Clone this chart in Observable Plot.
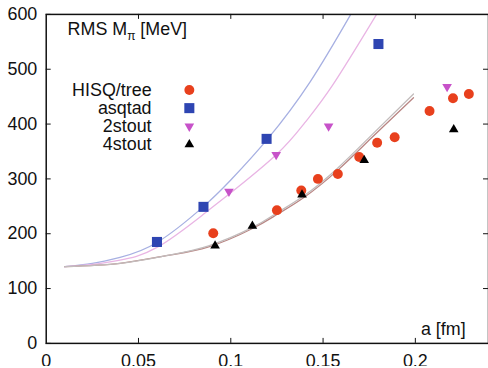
<!DOCTYPE html>
<html><head><meta charset="utf-8">
<script src="https://cdn.jsdelivr.net/npm/d3@7"></script>
<script src="https://cdn.jsdelivr.net/npm/@observablehq/plot@0.6"></script>
<style>html,body{margin:0;padding:0;background:#fff;overflow:hidden;} svg{display:block}</style>
</head><body><div id="chart"></div>
<script>
// ---- data ----
const hisqA = [0.0905, 0.125, 0.1382, 0.1472, 0.158, 0.1696, 0.1793, 0.1888, 0.2077, 0.2204, 0.229];
const hisqM = [201, 243, 279, 300, 309, 340, 366, 376, 424, 447, 455];
const asqtadA = [0.06, 0.0852, 0.1194, 0.18];
const asqtadM = [185, 249, 373, 546];
const stout2A = [0.099, 0.1246, 0.153, 0.2172];
const stout2M = [277, 344, 396, 468];
const stout4A = [0.0915, 0.1117, 0.1386, 0.1723, 0.2208];
const stout4M = [178, 214, 271, 334, 390];

// fit curves
const asqCurveA = [0.01, 0.025, 0.04, 0.06, 0.085, 0.1, 0.12, 0.143, 0.165];
const asqCurveM = [140, 146, 157, 184, 249, 298, 373, 477, 600];
const st2CurveA = [0.01, 0.025, 0.04, 0.06, 0.085, 0.099, 0.1246, 0.14, 0.155, 0.179];
const st2CurveM = [140, 144, 152, 175, 235, 272, 344, 402, 470, 600];
const hisqCurveA = [0.01, 0.04, 0.065, 0.088, 0.112, 0.125, 0.14, 0.158, 0.176, 0.199];
const hisqCurveM = [140, 146, 160, 176, 210, 235, 267, 316, 374, 448];
const st4CurveA = [0.01, 0.04, 0.065, 0.088, 0.112, 0.125, 0.14, 0.158, 0.176, 0.199];
const st4CurveM = [140, 146, 160, 178, 212, 238, 270, 320, 379, 455];

const xTicks = [0, 0.05, 0.1, 0.15, 0.2];
const yTicks = [0, 100, 200, 300, 400, 500, 600];
const legendNames = ["HISQ/tree", "asqtad", "2stout", "4stout"];

// ---- build ----
const zip = (A, M) => A.map((a, i) => ({a, m: M[i]}));
const W = 491, H = 368, mL = 46, mR = 0, mT = 14, mB = 23;
const pw = W - mL - mR, ph = H - mT - mB;
const FONT = "'Liberation Sans', Arial, Helvetica, sans-serif";

const series = [
  {name: legendNames[0], data: zip(hisqA, hisqM), symbol: "circle", fill: "#e8401d", r: 5, rotate: 0},
  {name: legendNames[1], data: zip(asqtadA, asqtadM), symbol: "square", fill: "#2e45b2", r: 5.7, rotate: 0},
  {name: legendNames[2], data: zip(stout2A, stout2M), symbol: "triangle", fill: "#c752c9", r: 3.6, rotate: 180},
  {name: legendNames[3], data: zip(stout4A, stout4M), symbol: "triangle", fill: "#000000", r: 3.6, rotate: 0}
];

const curves = [
  {data: zip(asqCurveA, asqCurveM), stroke: "#a7b0e2"},
  {data: zip(st2CurveA, st2CurveM), stroke: "#e9b5e4"},
  {data: zip(hisqCurveA, hisqCurveM), stroke: "#b98684"},
  {data: zip(st4CurveA, st4CurveM), stroke: "#c2bcbc"}
];

const marks = [
  ...curves.map(c => Plot.line(c.data, {x: "a", y: "m", stroke: c.stroke, strokeWidth: 1.3, curve: "natural", clip: true})),
  ...series.map(s => Plot.dot(s.data, {x: "a", y: "m", symbol: s.symbol, r: s.r, fill: s.fill, rotate: s.rotate, stroke: "none"})),
  Plot.frame({stroke: "#111", strokeWidth: 1.5}),
  // inward ticks
  Plot.tickY(yTicks, {y: d => d, insetRight: pw - 5, stroke: "#111"}),
  Plot.tickY(yTicks.slice(1, -1), {y: d => d, insetLeft: pw - 5, stroke: "#111"}),
  Plot.tickX(xTicks.slice(1), {x: d => d, insetTop: ph - 5, stroke: "#111"}),
  Plot.tickX(xTicks.slice(1), {x: d => d, insetBottom: ph - 5, stroke: "#111"}),
  Plot.axisX(xTicks, {tickSize: 0, tickPadding: 11, tickFormat: d => String(d), fontSize: 18, fill: "#111", label: null}),
  Plot.axisY(yTicks, {tickSize: 0, tickPadding: 9, tickFormat: d => String(d), fontSize: 18, fill: "#111", label: null}),
  // legend
  ...series.map((s, i) => Plot.text([s.name], {text: d => d, frameAnchor: "top-left", dx: 152 - mL, dy: 96 - mT + i * 18.3, textAnchor: "end", lineAnchor: "bottom", fontSize: 18, fill: "#111"})),
  ...series.map((s, i) => Plot.dot([s.name], {frameAnchor: "top-left", dx: 190 - mL, dy: 90 - mT + i * 18.3, symbol: s.symbol, r: s.r, fill: s.fill, rotate: s.rotate, stroke: "none"})),
  // x label
  Plot.text(["a [fm]"], {text: d => d, frameAnchor: "top-left", dx: 468 - mL, dy: 337 - mT, textAnchor: "end", lineAnchor: "bottom", fontSize: 18, fill: "#111"})
];

const chart = Plot.plot({
  width: W, height: H,
  marginLeft: mL, marginRight: mR, marginTop: mT, marginBottom: mB,
  x: {domain: [0, pw / 1857], axis: null, label: null},
  y: {domain: [0, 600], axis: null, label: null},
  style: {fontFamily: FONT, fontSize: "18px", background: "#fff", color: "#111", overflow: "visible"},
  marks
});

// y-axis title with subscript
const svg = d3.select(chart);
const t = svg.append("text")
  .attr("x", 68).attr("y", 35)
  .attr("text-anchor", "start")
  .attr("font-size", 18).attr("fill", "#111")
  .attr("font-family", FONT);
t.append("tspan").text("RMS M");
t.append("tspan").attr("font-size", 12).attr("dy", 5).text("π");
t.append("tspan").attr("dy", -5).text(" [MeV]");

document.getElementById("chart").append(chart);
</script></body></html>
